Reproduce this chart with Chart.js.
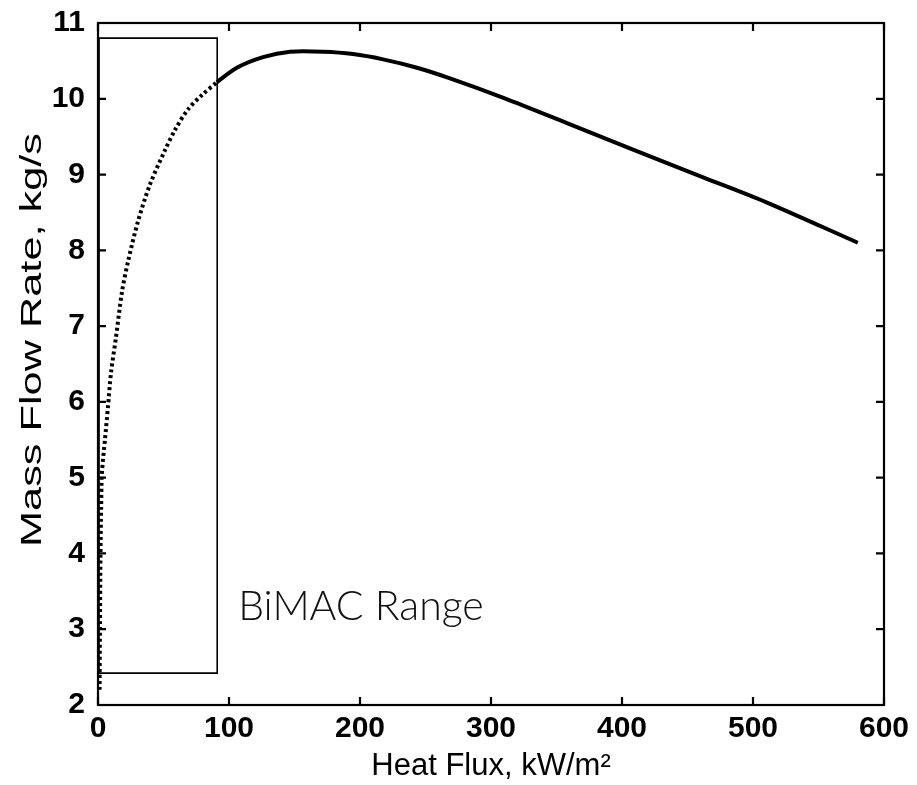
<!DOCTYPE html>
<html>
<head>
<meta charset="utf-8">
<script src="https://cdn.jsdelivr.net/npm/chart.js@4.4.0/dist/chart.umd.min.js"></script>
<style>
  html, body { margin: 0; padding: 0; background: #fff; }
</style>
</head>
<body>
<canvas id="chart" width="917" height="785"></canvas>
<script>
// Dotted part of the curve (inside the BiMAC range)
const fluxLow = [1.2, 1.5, 1.9, 2.4, 3.0, 5.3, 7.6, 9.9, 13.7, 18.3, 22.9, 30.5, 39.7, 51.1, 58.8, 68.7, 79.4, 90.8];
const flowLow = [2.2, 3.0, 4.0, 4.6, 5.06, 5.5, 5.93, 6.38, 6.85, 7.45, 7.85, 8.38, 8.87, 9.32, 9.59, 9.86, 10.05, 10.22];

// Solid part of the curve
const fluxHigh = [90.8, 106, 126, 146.6, 171.8, 194.7, 217.6, 243.5, 268.7, 310, 358, 408.4, 459.5, 510.7, 580];
const flowHigh = [10.22, 10.41, 10.55, 10.62, 10.62, 10.59, 10.52, 10.41, 10.27, 10.01, 9.68, 9.33, 8.98, 8.63, 8.10];

// BiMAC range box
const boxFlux = [0.8, 91, 91, 0.8, 0.8];
const boxFlow = [2.42, 2.42, 10.8, 10.8, 2.42];

const xTicks = [0, 100, 200, 300, 400, 500, 600];
const yTicks = [2, 3, 4, 5, 6, 7, 8, 9, 10, 11];

const toPoints = (xs, ys) => xs.map((x, i) => ({ x: x, y: ys[i] }));

// frame, inward ticks, y title and the box label
const matlabAxes = {
    id: 'matlabAxes',
    afterDatasetsDraw(chart) {
        const { ctx, chartArea: a, scales: { x, y } } = chart;
        ctx.save();
        ctx.strokeStyle = '#000';
        ctx.lineWidth = 2.2;
        ctx.strokeRect(a.left, a.top, a.right - a.left, a.bottom - a.top);
        const len = 8;
        ctx.beginPath();
        xTicks.forEach(v => {
            const px = x.getPixelForValue(v);
            ctx.moveTo(px, a.bottom); ctx.lineTo(px, a.bottom - len);
            ctx.moveTo(px, a.top); ctx.lineTo(px, a.top + len);
        });
        yTicks.forEach(v => {
            const py = y.getPixelForValue(v);
            ctx.moveTo(a.left, py); ctx.lineTo(a.left + len, py);
            ctx.moveTo(a.right, py); ctx.lineTo(a.right - len, py);
        });
        ctx.stroke();

        // box label
        ctx.fillStyle = '#111';
        ctx.font = '300 41px Lato';
        ctx.textAlign = 'left';
        ctx.textBaseline = 'alphabetic';
        ctx.fillText('BiMAC Range', x.getPixelForValue(107), y.getPixelForValue(3.12));

        // y axis title, stretched along its length like the original
        ctx.translate(41, 340);
        ctx.rotate(-Math.PI / 2);
        ctx.font = '30px "Liberation Sans"';
        ctx.fillStyle = '#000';
        const label = 'Mass Flow Rate, kg/s';
        const w = ctx.measureText(label).width;
        ctx.scale(414 / w, 1);
        ctx.textAlign = 'center';
        ctx.fillText(label, 0, 0);
        ctx.restore();
    }
};

new Chart(document.getElementById('chart'), {
    type: 'scatter',
    data: {
        datasets: [
            {
                label: 'BiMAC Range',
                data: toPoints(boxFlux, boxFlow),
                showLine: true,
                borderColor: '#000',
                borderWidth: 1.6,
                pointRadius: 0
            },
            {
                label: 'Mass flow (low flux)',
                data: toPoints(fluxLow, flowLow),
                showLine: true,
                borderColor: '#000',
                borderWidth: 4,
                borderDash: [3, 3],
                borderCapStyle: 'butt',
                tension: 0.3,
                pointRadius: 0
            },
            {
                label: 'Mass flow',
                data: toPoints(fluxHigh, flowHigh),
                showLine: true,
                borderColor: '#000',
                borderWidth: 4,
                tension: 0.3,
                pointRadius: 0
            }
        ]
    },
    options: {
        responsive: false,
        animation: false,
        devicePixelRatio: 1,
        layout: { padding: { left: 0, top: 23, right: 33, bottom: 0 } },
        plugins: {
            legend: { display: false },
            tooltip: { enabled: false }
        },
        scales: {
            x: {
                type: 'linear',
                min: 0,
                max: 600,
                afterFit: s => { s.height = 80; s.paddingLeft = 0; s.paddingRight = 0; },
                afterBuildTicks: s => { s.ticks = xTicks.map(v => ({ value: v })); },
                grid: { display: false, drawTicks: false },
                border: { display: false },
                ticks: {
                    color: '#000',
                    padding: 6,
                    maxRotation: 0,
                    font: { family: '"Liberation Sans"', size: 30, weight: 'bold' }
                },
                title: {
                    display: true,
                    text: 'Heat Flux, kW/m²',
                    color: '#000',
                    padding: 0,
                    font: { family: '"Liberation Sans"', size: 31 }
                }
            },
            y: {
                type: 'linear',
                min: 2,
                max: 11,
                afterFit: s => { s.width = 98; s.paddingTop = 0; s.paddingBottom = 0; },
                afterBuildTicks: s => { s.ticks = yTicks.map(v => ({ value: v })); },
                grid: { display: false, drawTicks: false },
                border: { display: false },
                ticks: {
                    color: '#000',
                    padding: 13,
                    font: { family: '"Liberation Sans"', size: 30, weight: 'bold' }
                }
            }
        }
    },
    plugins: [matlabAxes]
});
</script>
</body>
</html>
